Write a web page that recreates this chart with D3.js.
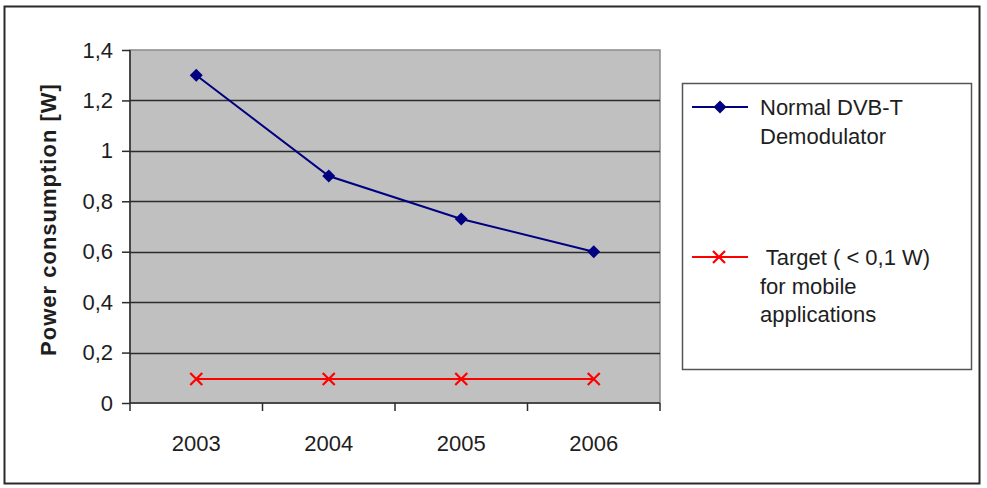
<!DOCTYPE html>
<html>
<head>
<meta charset="utf-8">
<script src="https://cdn.jsdelivr.net/npm/d3@7"></script>
<style>
  html, body { margin: 0; padding: 0; background: #fff; }
  svg { display: block; font-family: "Liberation Sans", Arial, sans-serif; }
</style>
</head>
<body>
<svg id="chart" width="987" height="488"></svg>
<script>
// ---- data ----
const categories = ["2003", "2004", "2005", "2006"];
const normalValues = [1.3, 0.9, 0.73, 0.6];
const targetValues = [0.095, 0.095, 0.095, 0.095];
const yTicks = [0, 0.2, 0.4, 0.6, 0.8, 1.0, 1.2, 1.4];
const seriesNames = [["Normal DVB-T", "Demodulator"], [" Target ( < 0,1 W)", "for mobile", "applications"]];
const yTitle = "Power consumption [W]";

const svg = d3.select("#chart");
const plot = { left: 130, right: 660, top: 50, bottom: 403 };

// outer frame
svg.append("rect").attr("x", 4.5).attr("y", 6.5).attr("width", 975).attr("height", 477)
  .attr("fill", "#fff").attr("stroke", "#2a2a2a").attr("stroke-width", 2);

const x = d3.scaleBand().domain(categories).range([plot.left, plot.right]).padding(0);
const y = d3.scaleLinear().domain([0, 1.4]).range([plot.bottom, plot.top]);

// plot background
svg.append("rect").attr("x", plot.left).attr("y", plot.top)
  .attr("width", plot.right - plot.left).attr("height", plot.bottom - plot.top)
  .attr("fill", "#c0c0c0").attr("stroke", "#8a8a8a").attr("stroke-width", 1.5);

// gridlines
svg.append("g").selectAll("line").data(yTicks.filter(d => d > 0 && d < 1.4)).join("line")
  .attr("x1", plot.left).attr("x2", plot.right)
  .attr("y1", d => Math.round(y(d)) + 0.5).attr("y2", d => Math.round(y(d)) + 0.5)
  .attr("stroke", "#2b2b2b").attr("stroke-width", 1.5);

// y axis
const yAxis = d3.axisLeft(y).tickValues(yTicks)
  .tickFormat(d => d3.format("~g")(d).replace(".", ","))
  .tickSize(8).tickPadding(9);
const gy = svg.append("g").attr("transform", `translate(${plot.left},0)`).call(yAxis);
gy.select(".domain").attr("stroke", "#2b2b2b").attr("stroke-width", 1.5).attr("d", `M0,${plot.top}V${plot.bottom}`);
gy.selectAll(".tick line").attr("stroke", "#2b2b2b").attr("stroke-width", 1.5);
gy.selectAll(".tick text").attr("font-size", 22).attr("fill", "#1e1e1e")
  .attr("font-family", "Liberation Sans, Arial, sans-serif");

// x axis
const xAxis = d3.axisBottom(x).tickSize(0).tickPadding(32);
const gx = svg.append("g").attr("transform", `translate(0,${plot.bottom})`).call(xAxis);
gx.select(".domain").attr("stroke", "#2b2b2b").attr("stroke-width", 1.5).attr("d", `M${plot.left},0H${plot.right}`);
gx.selectAll(".tick text").attr("font-size", 22).attr("fill", "#1e1e1e")
  .attr("font-family", "Liberation Sans, Arial, sans-serif");
// category boundary tick marks
const bounds = categories.map(c => x(c)).concat([x(categories[categories.length - 1]) + x.bandwidth()]);
gx.append("g").selectAll("line").data(bounds).join("line")
  .attr("x1", d => d).attr("x2", d => d).attr("y1", 0).attr("y2", 8)
  .attr("stroke", "#2b2b2b").attr("stroke-width", 1.5);

// y axis title
svg.append("text")
  .attr("transform", `translate(56,${(plot.top + plot.bottom) / 2 - 7}) rotate(-90)`)
  .attr("text-anchor", "middle").attr("font-size", 22).attr("font-weight", "bold")
  .attr("fill", "#1e1e1e").attr("letter-spacing", 1).text(yTitle);

const cx = c => x(c) + x.bandwidth() / 2;
const line = d3.line().x((d, i) => cx(categories[i])).y(d => y(d));

// target series
svg.append("path").datum(targetValues).attr("d", line)
  .attr("fill", "none").attr("stroke", "#ff0000").attr("stroke-width", 2);
const crossPath = s => `M${-s},${-s}L${s},${s}M${-s},${s}L${s},${-s}`;
svg.append("g").selectAll("path").data(targetValues).join("path")
  .attr("transform", (d, i) => `translate(${cx(categories[i])},${y(d)})`)
  .attr("d", crossPath(6)).attr("stroke", "#ff0000").attr("stroke-width", 2.2).attr("fill", "none");

// normal series
svg.append("path").datum(normalValues).attr("d", line)
  .attr("fill", "none").attr("stroke", "#000080").attr("stroke-width", 2);
const diamond = s => `M0,${-s}L${s},0L0,${s}L${-s},0Z`;
svg.append("g").selectAll("path").data(normalValues).join("path")
  .attr("transform", (d, i) => `translate(${cx(categories[i])},${y(d)})`)
  .attr("d", diamond(6.5)).attr("fill", "#000080");

// legend
const lg = svg.append("g");
lg.append("rect").attr("x", 682.5).attr("y", 83.5).attr("width", 289).attr("height", 286)
  .attr("fill", "#fff").attr("stroke", "#555").attr("stroke-width", 1.5);

const legendItems = [
  { y: 107, color: "#000080", marker: "diamond", lines: seriesNames[0], textY: 115 },
  { y: 257, color: "#ff0000", marker: "cross", lines: seriesNames[1], textY: 265 }
];
legendItems.forEach(it => {
  lg.append("line").attr("x1", 692).attr("x2", 748).attr("y1", it.y).attr("y2", it.y)
    .attr("stroke", it.color).attr("stroke-width", 2);
  if (it.marker === "diamond") {
    lg.append("path").attr("transform", `translate(720,${it.y})`).attr("d", diamond(6.5)).attr("fill", it.color);
  } else {
    lg.append("path").attr("transform", `translate(719,${it.y})`).attr("d", crossPath(6))
      .attr("stroke", it.color).attr("stroke-width", 2.2).attr("fill", "none");
  }
  const t = lg.append("text").attr("x", 760).attr("y", it.textY).attr("font-size", 22).attr("fill", "#1e1e1e")
    .attr("xml:space", "preserve").style("white-space", "pre");
  it.lines.forEach((l, i) => {
    t.append("tspan").attr("x", 760).attr("y", it.textY + i * 28.5).text(l);
  });
});
</script>
</body>
</html>
